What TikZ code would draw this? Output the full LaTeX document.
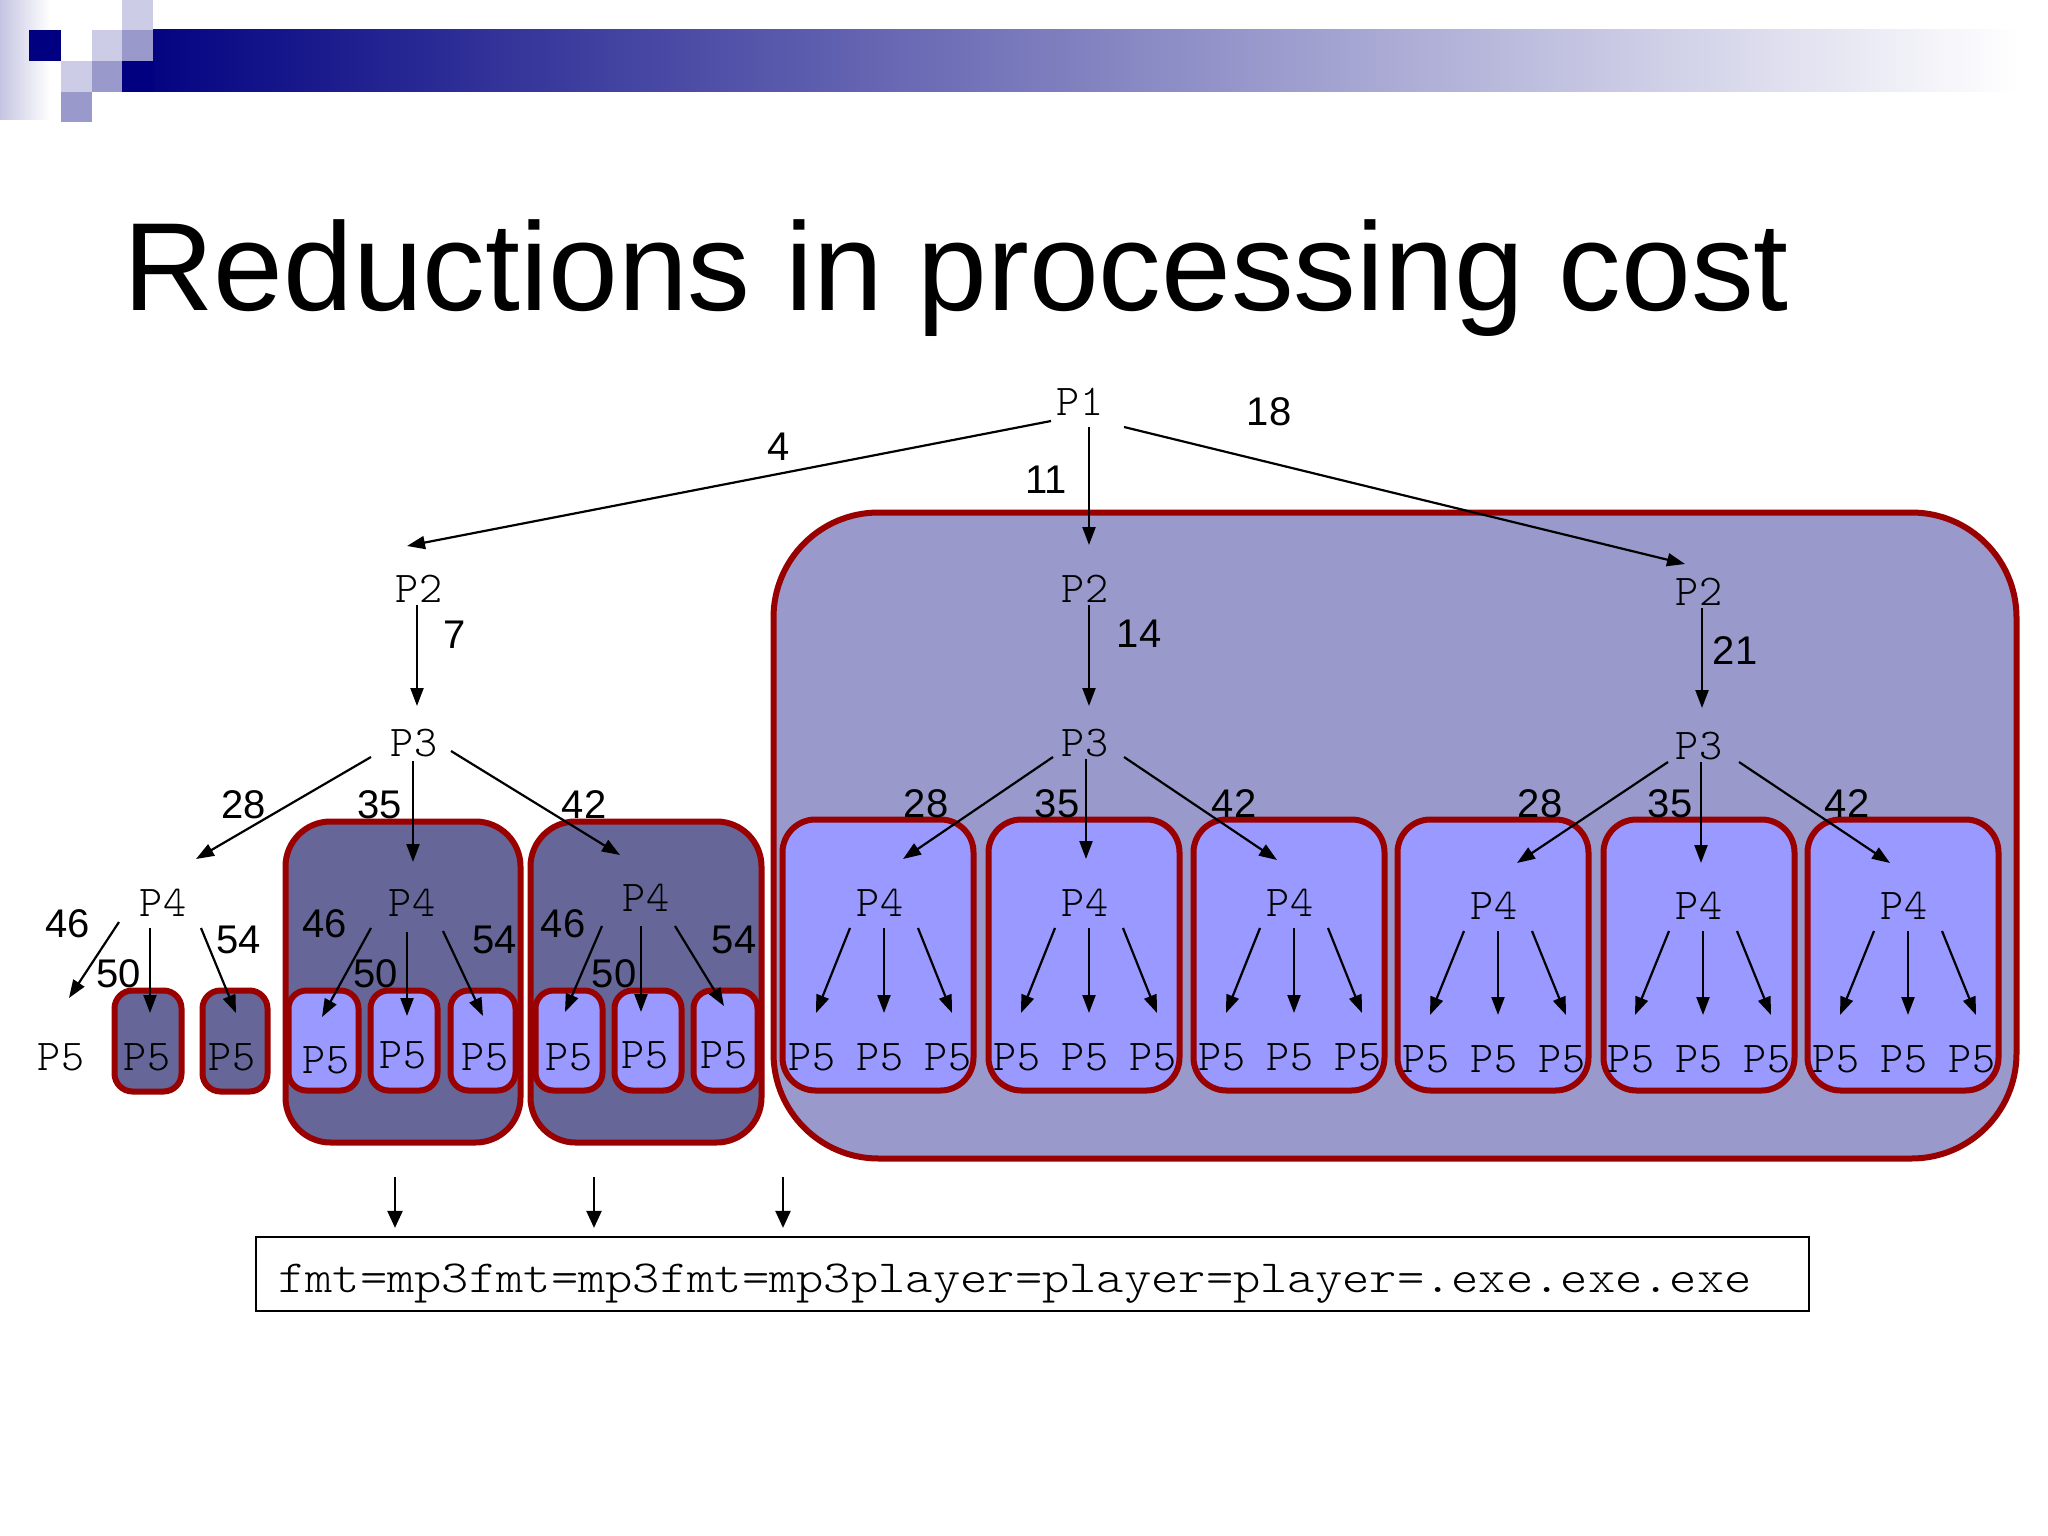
\documentclass[tikz,border=0pt]{standalone}
\usepackage{fontspec}
\setmainfont{Liberation Sans}
\newfontfamily\pmono{lmmonolt10-regular.otf}
\newfontfamily\cmono[FakeStretch=1.13]{lmmonolt10-regular.otf}
\usetikzlibrary{arrows.meta,calc}
\definecolor{navy}{RGB}{0,0,128}
\definecolor{lightlav}{RGB}{204,204,230}
\definecolor{medlav}{RGB}{153,153,204}
\definecolor{boxred}{RGB}{153,0,0}
\definecolor{outerfill}{RGB}{153,153,204}
\definecolor{darkfill}{RGB}{102,102,153}
\definecolor{lightfill}{RGB}{153,153,255}
\definecolor{barmid}{RGB}{132,128,192}
\newcommand\mybox[6]{%
  \node[#1, minimum width={(#5)-(#3)-5}, minimum height={(#6)-(#4)-5}] (#2)
    at ({((#3)+(#5))/2},{((#4)+(#6))/2}) {};}
\tikzset{
  plab/.style={inner sep=0pt, font=\pmono\fontsize{44}{44}\selectfont},
  num/.style={inner sep=0pt, font=\fontsize{40}{40}\selectfont},
  arr/.style={-{Triangle[length=18pt,width=13pt]}, line width=2.2pt, black},
  bigbox/.style={draw=boxred, line width=6pt, fill=outerfill, rounded corners=105pt, inner sep=0pt},
  darkbox/.style={draw=boxred, line width=6pt, fill=darkfill, rounded corners=45pt, inner sep=0pt},
  grpbox/.style={draw=boxred, line width=6pt, fill=lightfill, rounded corners=33pt, inner sep=0pt},
  smallbox/.style={draw=boxred, line width=6pt, fill=lightfill, rounded corners=18pt, inner sep=0pt},
  smalldark/.style={smallbox, fill=darkfill},
  codebox/.style={draw=black, line width=2.2pt, inner sep=0pt}
}
\begin{document}
\begin{tikzpicture}[x=1pt,y=-1pt]
\useasboundingbox (0,0) rectangle (2048,1536);
\fill[white] (0,0) rectangle (2048,1536);
% banner
\shade[left color=lightlav!85!medlav, right color=white] (0,0) rectangle (50,120);
\shade[left color=navy, middle color=barmid, right color=white] (122,30) rectangle (2018,92);
\fill[navy] (29,30) rectangle (61,61);
\fill[lightlav] (92,30) rectangle (122,61);
\fill[medlav] (122,30) rectangle (153,61);
\fill[lightlav] (122,0) rectangle (153,30);
\fill[lightlav] (61,61) rectangle (92,92);
\fill[medlav] (92,61) rectangle (122,92);
\fill[medlav] (61,92) rectangle (122,122);
\fill[white] (92,92) rectangle (122,122);
\fill[navy] (122,61) rectangle (153,92);
% title
\node[anchor=base west, inner sep=0pt, font=\fontsize{125.4}{125.4}\selectfont] (title) at (123,310) {Reductions in processing cost};
% boxes
\mybox{bigbox}{big}{771}{510}{2019}{1161}
\mybox{darkbox}{boxA}{283}{819}{523}{1145}
\mybox{darkbox}{boxB}{528}{819}{764}{1145}
\mybox{smalldark}{s1}{112}{988}{184}{1094}
\mybox{smalldark}{s2}{200}{988}{270}{1094}
\mybox{smallbox}{a1}{286}{988}{361}{1093}
\mybox{smallbox}{a2}{368}{988}{440}{1093}
\mybox{smallbox}{a3}{448}{988}{518}{1093}
\mybox{smallbox}{b1}{533}{988}{605}{1093}
\mybox{smallbox}{b2}{612}{988}{684}{1093}
\mybox{smallbox}{b3}{691}{988}{760}{1093}
\foreach \k/\x in {1/780,2/986,3/1191,4/1395,5/1601,6/1805} {
  \mybox{grpbox}{g\k}{\x}{817}{\x+196}{1093}
}
% tree nodes
\node[plab] (p1) at (1080,402) {P1};
\node[plab] (p2a) at (419,589) {P2};
\node[plab] (p2b) at (1085,589) {P2};
\node[plab] (p2c) at (1699,592) {P2};
\node[plab] (p3a) at (414,743) {P3};
\node[plab] (p3b) at (1085,743) {P3};
\node[plab] (p3c) at (1699,746) {P3};
\node[plab] (q0) at (163,903) {P4};
\node[plab] (qA) at (412,903) {P4};
\node[plab] (qB) at (646,898) {P4};
\node[plab] (r0a) at (61,1057) {P5};
\node[plab] (r0b) at (147,1057) {P5};
\node[plab] (r0c) at (232,1057) {P5};
\node[plab] (rA1) at (326,1060) {P5};
\node[plab] (rA2) at (403,1055) {P5};
\node[plab] (rA3) at (485,1057) {P5};
\node[plab] (rB1) at (569,1057) {P5};
\node[plab] (rB2) at (645,1055) {P5};
\node[plab] (rB3) at (724,1055) {P5};
\foreach \k/\x/\ya/\yb in {1/880/903/1057,2/1085/903/1057,3/1290/903/1057,4/1494/906/1059,5/1699/906/1059,6/1904/906/1059} {
  \node[plab] (q\k) at (\x,\ya) {P4};
  \node[plab] (ra\k) at (\x-68,\yb) {P5};
  \node[plab] (rb\k) at (\x,\yb) {P5};
  \node[plab] (rc\k) at (\x+68,\yb) {P5};
  \draw[arr] ($(q\k)+(-30,25)$) -- ($(ra\k)+(4,-44)$);
  \draw[arr] ($(q\k)+(4,25)$) -- ($(rb\k)+(4,-44)$);
  \draw[arr] ($(q\k)+(38,25)$) -- ($(rc\k)+(4,-44)$);
}
% edge labels
\node[num] (l4) at (779,447) {4};
\node[num] (l11) at (1046,480) {11};
\node[num] (l18) at (1269,412) {18};
\node[num] (l7) at (455,635) {7};
\node[num] (l14) at (1139,634) {14};
\node[num] (l21) at (1735,651) {21};
\node[num] (l28a) at (244,805) {28};
\node[num] (l35a) at (380,805) {35};
\node[num] (l42a) at (584,805) {42};
\node[num] (l28b) at (926,804) {28};
\node[num] (l35b) at (1057,804) {35};
\node[num] (l42b) at (1234,804) {42};
\node[num] (l28c) at (1540,804) {28};
\node[num] (l35c) at (1670,804) {35};
\node[num] (l42c) at (1847,804) {42};
\node[num] (l46a) at (68,924) {46};
\node[num] (l50a) at (119,974) {50};
\node[num] (l54a) at (239,940) {54};
\node[num] (l46b) at (325,924) {46};
\node[num] (l50b) at (376,974) {50};
\node[num] (l54b) at (495,940) {54};
\node[num] (l46c) at (563,924) {46};
\node[num] (l50c) at (614,974) {50};
\node[num] (l54c) at (734,940) {54};
% tree arrows
\draw[arr] ($(p1)+(-29,19)$) -- ($(p2a)+(-12,-43)$);
\draw[arr] ($(p1)+(9,25)$) -- ($(p2b)+(4,-44)$);
\draw[arr] ($(p1)+(44,25)$) -- ($(p2c)+(-14,-28)$);
\draw[arr] ($(p2a)+(-2,16)$) -- ($(p3a)+(3,-37)$);
\draw[arr] ($(p2b)+(4,16)$) -- ($(p3b)+(4,-37)$);
\draw[arr] ($(p2c)+(3,16)$) -- ($(p3c)+(3,-38)$);
\draw[arr] ($(p3a)+(-43,14)$) -- ($(q0)+(33,-44)$);
\draw[arr] ($(p3a)+(-1,18)$) -- ($(qA)+(1,-41)$);
\draw[arr] ($(p3a)+(37,8)$) -- ($(qB)+(-26,-43)$);
\draw[arr] ($(p3b)+(-32,14)$) -- ($(q1)+(23,-44)$);
\draw[arr] ($(p3b)+(1,16)$) -- ($(q2)+(1,-44)$);
\draw[arr] ($(p3b)+(39,14)$) -- ($(q3)+(-13,-43)$);
\draw[arr] ($(p3c)+(-31,16)$) -- ($(q4)+(23,-43)$);
\draw[arr] ($(p3c)+(2,16)$) -- ($(q5)+(2,-43)$);
\draw[arr] ($(p3c)+(40,16)$) -- ($(q6)+(-14,-43)$);
\draw[arr] ($(q0)+(-44,19)$) -- ($(r0a)+(8,-59)$);
\draw[arr] ($(q0)+(-13,25)$) -- ($(r0b)+(3,-44)$);
\draw[arr] ($(q0)+(38,25)$) -- ($(r0c)+(4,-44)$);
\draw[arr] ($(qA)+(-41,25)$) -- ($(rA1)+(-4,-43)$);
\draw[arr] ($(qA)+(-5,29)$) -- ($(rA2)+(4,-39)$);
\draw[arr] ($(qA)+(31,28)$) -- ($(rA3)+(-2,-41)$);
\draw[arr] ($(qB)+(-44,28)$) -- ($(rB1)+(-4,-45)$);
\draw[arr] ($(qB)+(-5,28)$) -- ($(rB2)+(-4,-43)$);
\draw[arr] ($(qB)+(29,28)$) -- ($(rB3)+(0,-49)$);
% code box
\node[codebox, minimum width=1553pt, minimum height=74pt] (cbox) at (1032.5,1274) {};
\node[anchor=base west, inner sep=0pt, font=\cmono\fontsize{46}{46}\selectfont] (code) at (278,1292) {fmt=mp3fmt=mp3fmt=mp3player=player=player=.exe.exe.exe};
\coordinate (t1) at (395,1177);
\coordinate (t2) at (594,1177);
\coordinate (t3) at (783,1177);
\foreach \t in {t1,t2,t3} {
  \draw[arr, -{Triangle[length=17pt,width=15pt]}, shorten >=8pt] (\t) -- (\t |- cbox.north);
}
\end{tikzpicture}
\end{document}
